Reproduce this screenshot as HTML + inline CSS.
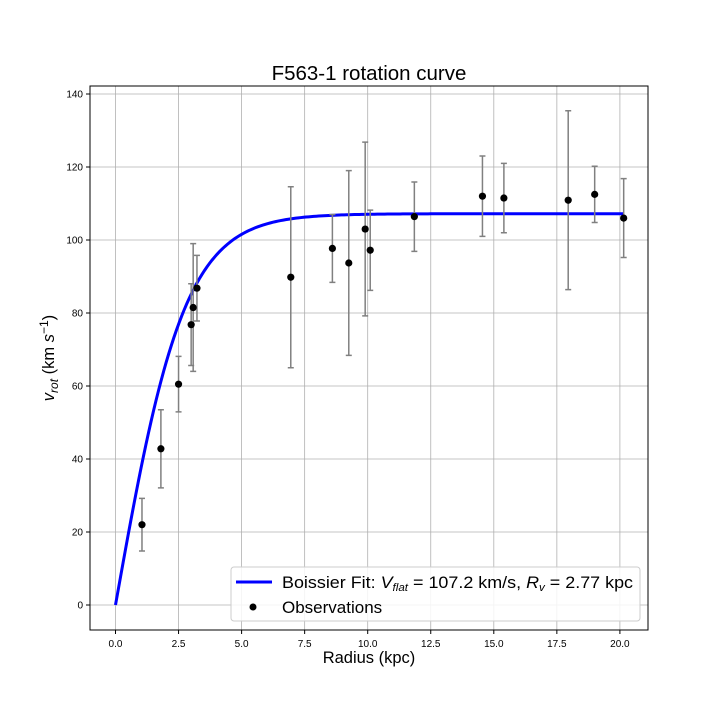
<!DOCTYPE html>
<html><head><meta charset="utf-8"><style>
body{margin:0;background:#fff;}
svg text{font-family:"Liberation Sans","DejaVu Sans",sans-serif;}
</style></head><body>
<svg id="c" width="720" height="720" xmlns="http://www.w3.org/2000/svg">
<rect width="720" height="720" fill="#fff"/>
<g id="grid"></g>
<g id="ticks"></g>
<g id="series"></g>
<rect x="90" y="86" width="558" height="544" fill="none" stroke="#000" stroke-width="1"/>
<text x="369" y="80" font-size="20.5" text-anchor="middle">F563-1 rotation curve</text>
<text x="369" y="663" font-size="16.5" text-anchor="middle">Radius (kpc)</text>
<text transform="translate(54,358) rotate(-90)" font-size="16.5" text-anchor="middle"><tspan font-style="italic">v</tspan><tspan font-size="12" dy="4" font-style="italic">rot</tspan><tspan dy="-4"> (km </tspan><tspan font-style="italic">s</tspan><tspan font-size="12" dy="-6">−1</tspan><tspan dy="6">)</tspan></text>
<g>
<rect x="231" y="567" width="409" height="54" rx="3" fill="#fff" fill-opacity="0.85" stroke="#ccc"/>
<line x1="236" y1="582" x2="272" y2="582" stroke="#0000ff" stroke-width="3"/>
<text x="282" y="588" font-size="17" textLength="351" lengthAdjust="spacingAndGlyphs">Boissier Fit: <tspan font-style="italic">V</tspan><tspan font-size="11" dy="3" font-style="italic">flat</tspan><tspan dy="-3"> = 107.2 km/s, </tspan><tspan font-style="italic">R</tspan><tspan font-size="11" dy="3" font-style="italic">v</tspan><tspan dy="-3"> = 2.77 kpc</tspan></text>
<circle cx="253" cy="607" r="3.5" fill="#000"/>
<text x="282" y="613" font-size="17">Observations</text>
</g>
</svg>
<script>
const radius=[1.05,1.8,2.5,3.0,3.08,3.23,6.95,8.6,9.25,9.9,10.1,11.85,14.55,15.4,17.95,19.0,20.15];
const vrot=[22,42.8,60.5,76.8,81.5,86.8,89.8,97.7,93.7,103,97.2,106.4,112,111.5,110.9,112.5,106];
const verr=[7.2,10.7,7.6,11.2,17.5,9,24.8,9.3,25.3,23.8,11,9.5,11,9.5,24.5,7.7,10.8];
const xTicks=[0,2.5,5,7.5,10,12.5,15,17.5,20];
const yTicks=[0,20,40,60,80,100,120,140];
const vflat=107.2, rv=2.77;
const NS="http://www.w3.org/2000/svg";
const X=v=>115.5+v*25.22;
const Y=v=>605-v*3.65;
const grid=document.getElementById('grid'),ticks=document.getElementById('ticks'),series=document.getElementById('series');
function mk(t,a,p){const e=document.createElementNS(NS,t);for(const k in a)e.setAttribute(k,a[k]);p.appendChild(e);return e;}
xTicks.forEach(t=>{
 const g=mk('line',{x1:X(t),x2:X(t),y1:86,y2:630,stroke:'#b0b0b0','stroke-width':0.8},grid);
 
 
 const tk=mk('line',{x1:X(t),x2:X(t),y1:630,y2:634,stroke:'#000'},ticks);
 
 
 const tx=mk('text',{x:X(t),y:647,'font-size':10,'text-anchor':'middle'},ticks);tx.textContent=t.toFixed(1);
 
 
});
yTicks.forEach(t=>{
 const g=mk('line',{x1:90,x2:648,y1:Y(t),y2:Y(t),stroke:'#b0b0b0','stroke-width':0.8},grid);
 
 
 const tk=mk('line',{x1:86,x2:90,y1:Y(t),y2:Y(t),stroke:'#000'},ticks);
 
 
 const tx=mk('text',{x:83,y:Y(t)+3.5,'font-size':10,'text-anchor':'end'},ticks);tx.textContent=t;
 
 
});
let d='';
for(let i=0;i<=200;i++){const r=20.15*i/200;const v=vflat*Math.tanh(r/rv);d+=(i?'L':'M')+X(r).toFixed(2)+','+Y(v).toFixed(2);}
const fit=mk('path',{d:d,fill:'none',stroke:'#0000ff','stroke-width':3},series);


radius.forEach((r,i)=>{
 const x=X(r),t=Y(vrot[i]+verr[i]),b=Y(vrot[i]-verr[i]);
 const e=mk('path',{d:`M${x},${t}L${x},${b}M${x-3},${t}L${x+3},${t}M${x-3},${b}L${x+3},${b}`,stroke:'#808080','stroke-width':1.5,fill:'none'},series);
 
 
});
radius.forEach((r,i)=>{
 const c=mk('circle',{cx:X(r),cy:Y(vrot[i]),r:3.6,fill:'#000'},series);
 
 
});
</script>
</body></html>
